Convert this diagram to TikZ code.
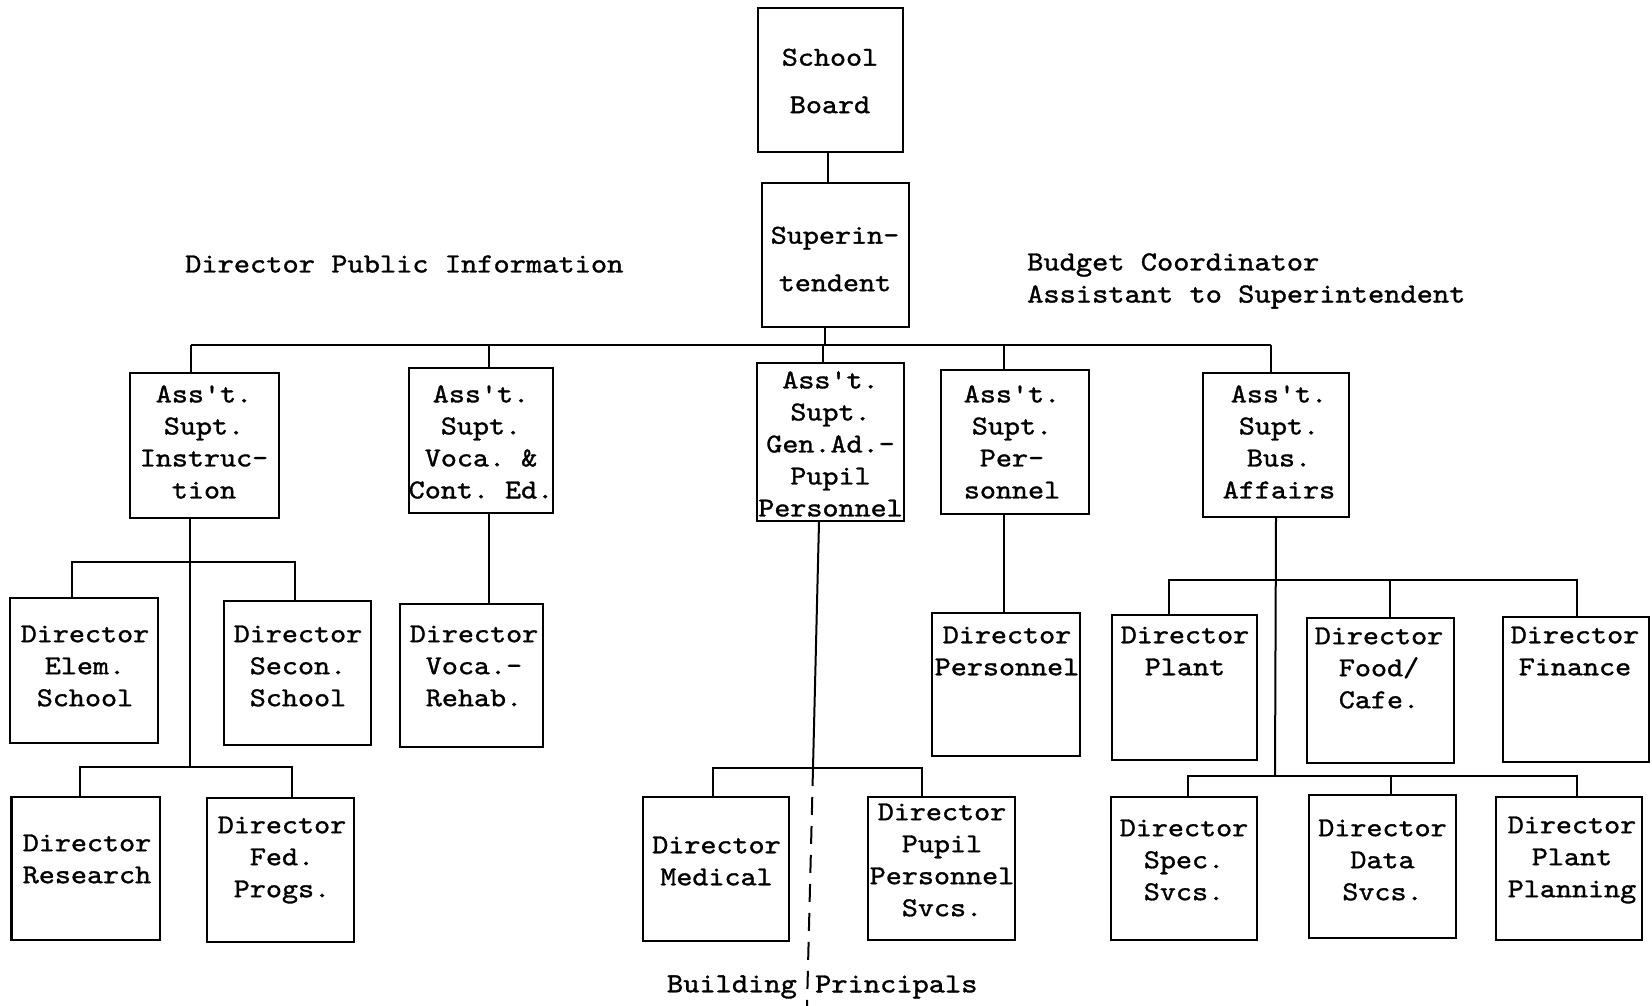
\documentclass[tikz,border=0pt]{standalone}
\usepackage{fontspec}
\newfontfamily\tw[FakeStretch=1.12,FakeBold=1.2]{lmmono10-regular.otf}
\frenchspacing
\begin{document}
\begin{tikzpicture}[x=1pt,y=-1pt,
  box/.style={draw, line width=2.2pt, inner sep=0pt},
  tx/.style={font={\tw\fontsize{27.3}{32}\selectfont\frenchspacing}, align=center, inner sep=0pt},
  txb/.style={font={\tw\fontsize{27.3}{47.5}\selectfont\frenchspacing}, align=center, inner sep=0pt},
  lab/.style={font={\tw\fontsize{27.6}{32}\selectfont\frenchspacing}, inner sep=0pt},
  ln/.style={line width=2pt}]
\useasboundingbox (0,0) rectangle (1652,1006);
% boxes
\node[box,minimum width=145,minimum height=144] (board) at (830.4,80) {};
\node[box,minimum width=147,minimum height=144] (sup) at (835.5,255) {};
\node[box,minimum width=149,minimum height=145] (instr) at (204.5,445.5) {};
\node[box,minimum width=144,minimum height=145] (voca) at (481,440.5) {};
\node[box,minimum width=147,minimum height=158] (genad) at (830.5,442) {};
\node[box,minimum width=148,minimum height=144] (pers) at (1015,442) {};
\node[box,minimum width=146,minimum height=144] (bus) at (1276,445) {};
\node[box,minimum width=148,minimum height=145] (elem) at (84,670.5) {};
\node[box,minimum width=147,minimum height=144] (secon) at (297.5,673) {};
\node[box,minimum width=143,minimum height=143] (rehab) at (471.5,675.5) {};
\node[box,minimum width=148,minimum height=143] (dpers) at (1006,684.5) {};
\node[box,minimum width=145,minimum height=145] (plant) at (1184.5,687.5) {};
\node[box,minimum width=147,minimum height=145] (food) at (1380.5,690.5) {};
\node[box,minimum width=146,minimum height=145] (finance) at (1576,689.5) {};
\node[box,minimum width=148.5,minimum height=143] (research) at (85.75,868.5) {};
\node[box,minimum width=147,minimum height=144] (fed) at (280.5,870) {};
\node[box,minimum width=146,minimum height=144] (medical) at (716,869) {};
\node[box,minimum width=147,minimum height=143] (pupil) at (941.5,868.5) {};
\node[box,minimum width=146,minimum height=143] (spec) at (1184,868.5) {};
\node[box,minimum width=147,minimum height=143] (data) at (1382.5,866.5) {};
\node[box,minimum width=146,minimum height=143] (planning) at (1569,868.5) {};
% box texts
\node[txb] (boardT) at (830,81) {School\\Board};
\node[txb] (supT) at (835,259) {Superin-\\tendent};
\node[tx] (instrT) at (204,442) {Ass't.\\Supt.\\Instruc-\\tion};
\node[tx] (vocaT) at (481,442) {Ass't.\\Supt.\\Voca. \&\\Cont. Ed.};
\node[tx] (genadT) at (830.5,444) {Ass't.\\Supt.\\Gen.Ad.-\\Pupil\\Personnel};
\node[tx] (persT) at (1012,442) {Ass't.\\Supt.\\Per-\\sonnel};
\node[tx] (busT) at (1279,442) {Ass't.\\Supt.\\Bus.\\Affairs};
\node[tx] (elemT) at (85,666) {Director\\Elem.\\School};
\node[tx] (seconT) at (298,666) {Director\\Secon.\\School};
\node[tx] (rehabT) at (474,666) {Director\\Voca.-\\Rehab.};
\node[tx] (dpersT) at (1007,651) {Director\\Personnel};
\node[tx] (plantT) at (1185,651) {Director\\Plant};
\node[tx] (foodT) at (1379,668) {Director\\Food/\\Cafe.};
\node[tx] (financeT) at (1575,651) {Director\\Finance};
\node[tx] (researchT) at (87,859) {Director\\Research};
\node[tx] (fedT) at (282,860) {Director\\Fed.\\Progs.};
\node[tx] (medicalT) at (716.5,861) {Director\\Medical};
\node[tx] (pupilT) at (942,860) {Director\\Pupil\\Personnel\\Svcs.};
\node[tx] (specT) at (1184,860) {Director\\Spec.\\Svcs.};
\node[tx] (dataT) at (1382.5,860) {Director\\Data\\Svcs.};
\node[tx] (planningT) at (1572,860) {Director\\Plant\\Planning};
% free labels
\node[lab,anchor=west] (dpi) at (185,264) {Director Public Information};
\node[lab,anchor=west] (budget) at (1027,265) {Budget Coordinator};
\node[lab,anchor=west] (assist) at (1027,297) {Assistant to Superintendent};
\node[lab,anchor=east] (building) at (797,987) {Building};
\node[lab,anchor=west] (principals) at (815,987) {Principals};
% connectors
\draw[ln] (board.south -| 828,0) -- (sup.north -| 828,0);
\coordinate (busL) at (191,345);
\coordinate (busR) at (1271,345);
\draw[ln] (sup.south -| 825,0) -- (825,345);
\draw[ln] (busL) -- (busR);
\draw[ln] (busL) -- (instr.north -| busL);
\draw[ln] (489,345) -- (voca.north -| 489,0);
\draw[ln] (823,345) -- (genad.north -| 823,0);
\draw[ln] (1004,345) -- (pers.north -| 1004,0);
\draw[ln] (busR) -- (bus.north -| busR);
% instruction branch
\coordinate (iB) at (190,767);
\draw[ln] (instr.south -| iB) -- (iB);
\draw[ln] (elem.north -| 72,0) -- (72,562) -- (295,562) -- (secon.north -| 295,0);
\draw[ln] (research.north -| 80,0) -- (80,767) -- (292,767) -- (fed.north -| 292,0);
% voca branch
\draw[ln] (voca.south -| 489,0) -- (rehab.north -| 489,0);
% gen ad branch
\coordinate (gJ) at (813,768);
\coordinate (gEnd) at (807,1006);
\draw[ln] (genad.south -| 819,0) -- (gJ);
\draw[ln] (medical.north -| 713,0) -- (713,768) -- (922,768) -- (pupil.north -| 922,0);
\draw[ln, dash pattern=on 18pt off 11pt] (gJ) -- (gEnd);
% personnel branch
\draw[ln] (pers.south -| 1004,0) -- (dpers.north -| 1004,0);
% business branch
\coordinate (bJ) at (1275,776);
\draw[ln] (bus.south -| 1276,0) -- (bJ);
\draw[ln] (plant.north -| 1169,0) -- (1169,580) -- (1577,580) -- (finance.north -| 1577,0);
\draw[ln] (1390,580) -- (food.north -| 1390,0);
\draw[ln] (spec.north -| 1188,0) -- (1188,776) -- (1577,776) -- (planning.north -| 1577,0);
\draw[ln] (1391,776) -- (data.north -| 1391,0);
\end{tikzpicture}
\end{document}
